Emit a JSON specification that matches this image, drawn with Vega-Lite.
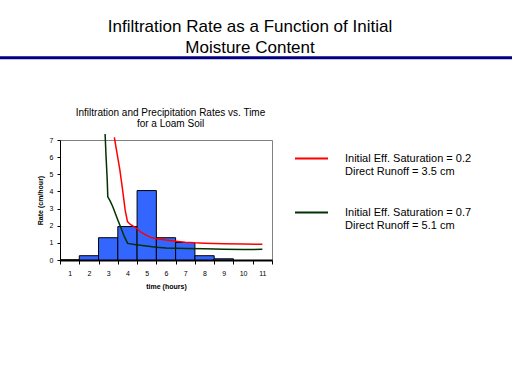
{
  "$schema": "https://vega.github.io/schema/vega-lite/v6.json",
  "width": 212,
  "height": 120,
  "autosize": {"type": "none"},
  "padding": {"left": 60, "top": 140, "right": 240, "bottom": 124},
  "background": "white",
  "config": {
    "font": "Liberation Sans",
    "view": {"stroke": "#808080", "strokeWidth": 1},
    "axisY": {
      "values": [0, 1, 2, 3, 4, 5, 6, 7],
      "labelFontSize": 7,
      "labelColor": "black",
      "labelPadding": 4,
      "labelFlush": false,
      "labelOverlap": false,
      "tickSize": 3,
      "tickColor": "black",
      "domainColor": "black",
      "grid": false,
      "titleFontSize": 7,
      "titleFontWeight": "bold",
      "titleColor": "black",
      "titlePadding": 6
    }
  },
  "title": {
    "text": ["Infiltration Rate as a Function of Initial", "Moisture Content"],
    "fontSize": 17,
    "fontWeight": "normal",
    "font": "Liberation Sans",
    "color": "black",
    "anchor": "middle",
    "frame": "group",
    "dx": 84,
    "offset": -1,
    "lineHeight": 21.5
  },
  "datasets": {
    "rain": [
      {"start": 0.5, "end": 1.5, "rate": 0},
      {"start": 1.5, "end": 2.5, "rate": 0.25},
      {"start": 2.5, "end": 3.5, "rate": 1.3},
      {"start": 3.5, "end": 4.5, "rate": 1.95},
      {"start": 4.5, "end": 5.5, "rate": 4.05},
      {"start": 5.5, "end": 6.5, "rate": 1.3},
      {"start": 6.5, "end": 7.5, "rate": 1.02},
      {"start": 7.5, "end": 8.5, "rate": 0.25},
      {"start": 8.5, "end": 9.5, "rate": 0.07}
    ],
    "curves": [
      {"series": "S02", "time": 3.32, "rate": 7.16},
      {"series": "S02", "time": 3.46, "rate": 6.22},
      {"series": "S02", "time": 3.6, "rate": 5.3},
      {"series": "S02", "time": 3.75, "rate": 4.08},
      {"series": "S02", "time": 3.88, "rate": 2.92},
      {"series": "S02", "time": 4.0, "rate": 2.24},
      {"series": "S02", "time": 4.15, "rate": 2.07},
      {"series": "S02", "time": 4.3, "rate": 1.98},
      {"series": "S02", "time": 4.48, "rate": 1.85},
      {"series": "S02", "time": 4.7, "rate": 1.62},
      {"series": "S02", "time": 4.97, "rate": 1.45},
      {"series": "S02", "time": 5.2, "rate": 1.32},
      {"series": "S02", "time": 5.5, "rate": 1.24},
      {"series": "S02", "time": 6.0, "rate": 1.16},
      {"series": "S02", "time": 6.5, "rate": 1.1},
      {"series": "S02", "time": 7.0, "rate": 1.04},
      {"series": "S02", "time": 7.5, "rate": 1.0},
      {"series": "S02", "time": 8.0, "rate": 0.98},
      {"series": "S02", "time": 9.0, "rate": 0.95},
      {"series": "S02", "time": 10.0, "rate": 0.93},
      {"series": "S02", "time": 11.0, "rate": 0.92},
      {"series": "S07", "time": 2.84, "rate": 7.35},
      {"series": "S07", "time": 2.89, "rate": 6.03},
      {"series": "S07", "time": 2.95, "rate": 4.67},
      {"series": "S07", "time": 2.98, "rate": 3.69},
      {"series": "S07", "time": 3.1, "rate": 3.45},
      {"series": "S07", "time": 3.24, "rate": 3.11},
      {"series": "S07", "time": 3.5, "rate": 2.33},
      {"series": "S07", "time": 3.67, "rate": 1.85},
      {"series": "S07", "time": 3.84, "rate": 1.36},
      {"series": "S07", "time": 4.01, "rate": 0.97},
      {"series": "S07", "time": 4.36, "rate": 0.91},
      {"series": "S07", "time": 4.88, "rate": 0.83},
      {"series": "S07", "time": 5.5, "rate": 0.74},
      {"series": "S07", "time": 6.0, "rate": 0.7},
      {"series": "S07", "time": 7.0, "rate": 0.67},
      {"series": "S07", "time": 8.0, "rate": 0.65},
      {"series": "S07", "time": 9.0, "rate": 0.62},
      {"series": "S07", "time": 10.0, "rate": 0.61},
      {"series": "S07", "time": 11.0, "rate": 0.62}
    ],
    "separator": [{"part": "header"}]
  },
  "layer": [
    {
      "data": {"name": "rain"},
      "mark": {"type": "rect", "fill": "#3366ff", "stroke": "black", "strokeWidth": 1},
      "encoding": {
        "x": {
          "field": "start",
          "type": "quantitative",
          "scale": {"domain": [0.5, 11.5], "nice": false, "zero": false},
          "axis": {
            "orient": "bottom",
            "values": [0.5, 1.5, 2.5, 3.5, 4.5, 5.5, 6.5, 7.5, 8.5, 9.5, 10.5, 11.5],
            "labelExpr": "datum.value < 11 ? '' + (datum.value + 0.5) : ''",
            "labelOffset": 9.636,
            "labelFlush": false,
            "labelOverlap": false,
            "labelFontSize": 7,
            "labelColor": "black",
            "labelPadding": 5,
            "tickSize": 4,
            "tickColor": "black",
            "domainColor": "black",
            "domainWidth": 2,
            "grid": false,
            "title": "time (hours)",
            "titleFontSize": 7,
            "titleFontWeight": "bold",
            "titleColor": "black",
            "titlePadding": 6
          }
        },
        "x2": {"field": "end"},
        "y": {
          "field": "rate",
          "type": "quantitative",
          "scale": {"domain": [0, 7], "nice": false, "zero": false},
          "axis": {"title": "Rate (cm/hour)", "values": [0, 1, 2, 3, 4, 5, 6, 7]}
        },
        "y2": {"datum": 0}
      }
    },
    {
      "data": {"name": "separator"},
      "mark": {"type": "rule", "color": "#000080", "strokeWidth": 3, "clip": false},
      "encoding": {
        "x": {"datum": -2.8, "type": "quantitative", "scale": {"domain": [0.5, 11.5], "nice": false, "zero": false}, "axis": null},
        "x2": {"datum": 24.5},
        "y": {"datum": 11.8, "type": "quantitative", "scale": {"domain": [0, 7], "nice": false, "zero": false}, "axis": {"title": "Rate (cm/hour)", "values": [0, 1, 2, 3, 4, 5, 6, 7]}}
      }
    },
    {
      "data": {"name": "curves"},
      "mark": {"type": "line", "strokeWidth": 1.5, "clip": false},
      "encoding": {
        "x": {
          "field": "time",
          "type": "quantitative",
          "scale": {"domain": [0.5, 11.5], "nice": false, "zero": false},
          "axis": {
            "orient": "top",
            "ticks": false,
            "labels": false,
            "domain": false,
            "grid": false,
            "title": ["Infiltration and Precipitation Rates vs. Time", "for a Loam Soil"],
            "titleFontSize": 10,
            "titleFontWeight": "normal",
            "titleColor": "black",
            "titleLineHeight": 11,
            "titleX": 110,
            "titlePadding": 12
          }
        },
        "y": {
          "field": "rate",
          "type": "quantitative",
          "scale": {"domain": [0, 7], "nice": false, "zero": false},
          "axis": {"title": "Rate (cm/hour)", "values": [0, 1, 2, 3, 4, 5, 6, 7]}
        },
        "color": {
          "field": "series",
          "type": "nominal",
          "scale": {"domain": ["S02", "S07"], "range": ["#ff0000", "#003300"]},
          "legend": {
            "orient": "none",
            "legendX": 234,
            "legendY": 1,
            "title": null,
            "padding": 0,
            "symbolType": "stroke",
            "symbolSize": 1089,
            "symbolStrokeWidth": 2,
            "labelFontSize": 11,
            "labelColor": "black",
            "labelOffset": 16,
            "labelLimit": 0,
            "rowPadding": 18,
            "labelExpr": "datum.value == 'S02' ? ['Initial Eff. Saturation = 0.2', 'Direct Runoff = 3.5 cm'] : ['Initial Eff. Saturation = 0.7', 'Direct Runoff = 5.1 cm']"
          }
        }
      }
    }
  ],
  "resolve": {"axis": {"x": "independent"}}
}
